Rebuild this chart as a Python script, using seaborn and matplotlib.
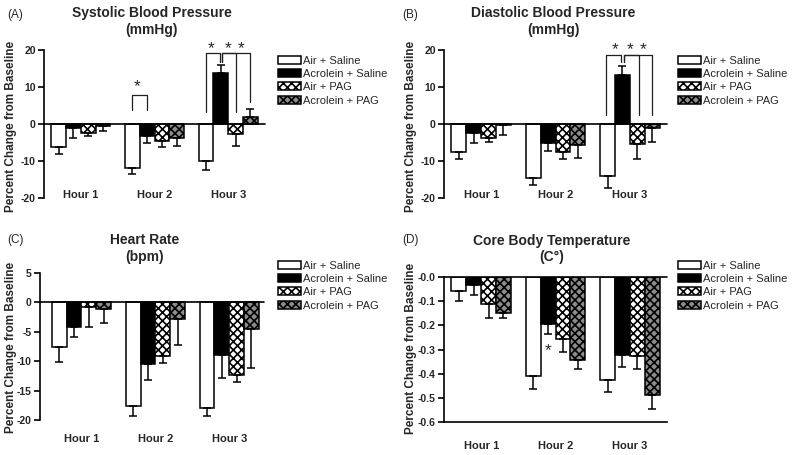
import numpy as np
import pandas as pd
import matplotlib
matplotlib.use("Agg")
import matplotlib.pyplot as plt
import seaborn as sns
from matplotlib.patches import Patch

sns.set_style("white")
plt.rcParams['font.family'] = ['Liberation Sans', 'DejaVu Sans']
plt.rcParams['hatch.linewidth'] = 1.2

# ---------------- data ----------------
hours = ["Hour 1", "Hour 2", "Hour 3"]
groups = ["Air + Saline", "Acrolein + Saline", "Air + PAG", "Acrolein + PAG"]

# (A) Systolic blood pressure, % change (mean, SEM)
sbp_mean_air_sal = [-6.2, -12.0, -9.9]
sbp_mean_acr_sal = [-1.2, -3.2, 13.9]
sbp_mean_air_pag = [-2.3, -4.5, -2.8]
sbp_mean_acr_pag = [-0.5, -3.9, 2.0]
sbp_sem_air_sal = [1.8, 1.5, 2.5]
sbp_sem_acr_sal = [2.5, 2.0, 2.0]
sbp_sem_air_pag = [0.9, 1.8, 3.1]
sbp_sem_acr_pag = [1.5, 2.0, 2.1]

# (B) Diastolic blood pressure
dbp_mean_air_sal = [-7.5, -14.7, -14.0]
dbp_mean_acr_sal = [-2.3, -5.0, 13.2]
dbp_mean_air_pag = [-3.7, -7.5, -5.5]
dbp_mean_acr_pag = [-0.3, -5.7, -1.2]
dbp_sem_air_sal = [2.0, 1.8, 3.4]
dbp_sem_acr_sal = [2.7, 2.2, 2.4]
dbp_sem_air_pag = [1.1, 2.0, 4.0]
dbp_sem_acr_pag = [2.7, 3.6, 3.6]

# (C) Heart rate
hr_mean_air_sal = [-7.5, -17.7, -17.9]
hr_mean_acr_sal = [-4.2, -10.5, -8.9]
hr_mean_air_pag = [-0.7, -9.2, -12.3]
hr_mean_acr_pag = [-1.1, -2.8, -4.5]
hr_sem_air_sal = [2.6, 1.6, 1.4]
hr_sem_acr_sal = [1.7, 2.7, 4.0]
hr_sem_air_pag = [3.4, 1.1, 1.2]
hr_sem_acr_pag = [2.4, 4.5, 6.7]

# (D) Core body temperature
temp_mean_air_sal = [-0.059, -0.408, -0.428]
temp_mean_acr_sal = [-0.034, -0.196, -0.324]
temp_mean_air_pag = [-0.110, -0.257, -0.327]
temp_mean_acr_pag = [-0.148, -0.342, -0.489]
temp_sem_air_sal = [0.041, 0.055, 0.046]
temp_sem_acr_sal = [0.039, 0.040, 0.050]
temp_sem_air_pag = [0.060, 0.052, 0.053]
temp_sem_acr_pag = [0.022, 0.040, 0.058]

bp_yticks = [20, 10, 0, -10, -20]
bp_yticklabels = ["20", "10", "0", "-10", "-20"]
hr_yticks = [5, 0, -5, -10, -15, -20]
hr_yticklabels = ["5", "0", "-5", "-10", "-15", "-20"]
temp_yticks = [0.0, -0.1, -0.2, -0.3, -0.4, -0.5, -0.6]
temp_yticklabels = ["-0.0", "-0.1", "-0.2", "-0.3", "-0.4", "-0.5", "-0.6"]

ylabel = "Percent Change from Baseline"

# ---------------- styling ----------------
face = {"Air + Saline": "white", "Acrolein + Saline": "black",
        "Air + PAG": "white", "Acrolein + PAG": "#8c8c8c"}
hatch = {"Air + Saline": "", "Acrolein + Saline": "",
         "Air + PAG": "xxxx", "Acrolein + PAG": "xxxx"}
LW = 1.1

fig = plt.figure(figsize=(8, 4.55), dpi=100)


def px_x(p):
    return p / 800.0


def px_y(p):
    return 1 - p / 455.0


def panel(rect, means, sems, ylim, yticks, yticklabels, xlim, spine_bounds,
          bottom_axis=False, label_pad=0.0):
    ax = fig.add_axes(rect)
    rows = []
    for g, m in zip(groups, means):
        for h, v in zip(hours, m):
            rows.append({"hour": h, "group": g, "value": v})
    df = pd.DataFrame(rows)
    sns.barplot(data=df, x="hour", y="value", hue="group", order=hours,
                hue_order=groups, palette=face, saturation=1, errorbar=None,
                edgecolor="black", linewidth=LW, width=0.8, legend=False,
                ax=ax, zorder=2)
    centers = []
    for g, cont in zip(groups, ax.containers):
        xs = []
        for p in cont.patches:
            p.set_hatch(hatch[g])
            p.set_edgecolor("black")
            xs.append(p.get_x() + p.get_width() / 2)
        centers.append(xs)
    for xs, m, s in zip(centers, means, sems):
        m = np.asarray(m)
        s = np.asarray(s)
        lower = np.where(m < 0, s, 0)
        upper = np.where(m >= 0, s, 0)
        ax.errorbar(xs, m, yerr=[lower, upper], fmt="none", ecolor="black",
                    elinewidth=LW, capsize=3, capthick=LW, zorder=3)
    ax.axhline(0, color="black", lw=1.2, zorder=4, clip_on=False)
    ax.set_ylim(*ylim)
    ax.set_xlim(*xlim)
    ax.set_yticks(yticks)
    ax.set_yticklabels(yticklabels)
    for side in ["top", "right"]:
        ax.spines[side].set_visible(False)
    ax.spines["left"].set_linewidth(1.2)
    ax.spines["left"].set_bounds(*spine_bounds)
    ax.spines["left"].set_color("black")
    if bottom_axis:
        ax.spines["bottom"].set_linewidth(1.2)
        ax.spines["bottom"].set_color("black")
        ax.tick_params(axis="x", length=4, width=1.2, direction="out",
                       pad=label_pad, color="black")
    else:
        ax.spines["bottom"].set_visible(False)
        ax.tick_params(axis="x", length=0, pad=label_pad)
    ax.tick_params(axis="y", length=4, width=1.2, direction="out", pad=2,
                   color="black", left=True)
    ax.set_xlabel("")
    ax.set_ylabel("")
    for t in ax.get_yticklabels():
        t.set_fontsize(7.5)
        t.set_fontweight("bold")
    for t in ax.get_xticklabels():
        t.set_fontsize(8)
        t.set_fontweight("bold")
    ax.patch.set_alpha(0)
    return ax, centers


def bracket(ax, x1, x2, ytop, y1, y2, star_x, star_y):
    ax.plot([x1, x1, x2, x2], [y1, ytop, ytop, y2], color="#202020",
            lw=0.9, clip_on=False, zorder=5)
    ax.text(star_x, star_y, "*", ha="center", va="center", fontsize=12.5,
            clip_on=False)


# (A)
axA, cA = panel([px_x(44), px_y(198), px_x(221), (198 - 42.6) / 455],
                [sbp_mean_air_sal, sbp_mean_acr_sal, sbp_mean_air_pag, sbp_mean_acr_pag],
                [sbp_sem_air_sal, sbp_sem_acr_sal, sbp_sem_air_pag, sbp_sem_acr_pag],
                (-20, 22), bp_yticks, bp_yticklabels, (-0.5, 2.5), (-20, 20),
                label_pad=-6)
# (B)
axB, cB = panel([px_x(444), px_y(198), px_x(223), (198 - 42.6) / 455],
                [dbp_mean_air_sal, dbp_mean_acr_sal, dbp_mean_air_pag, dbp_mean_acr_pag],
                [dbp_sem_air_sal, dbp_sem_acr_sal, dbp_sem_air_pag, dbp_sem_acr_pag],
                (-20, 22), bp_yticks, bp_yticklabels, (-0.5, 2.5), (-20, 20),
                label_pad=-6)
# (C)
axC, cC = panel([px_x(40), px_y(420), px_x(224), (420 - 273) / 455],
                [hr_mean_air_sal, hr_mean_acr_sal, hr_mean_air_pag, hr_mean_acr_pag],
                [hr_sem_air_sal, hr_sem_acr_sal, hr_sem_air_pag, hr_sem_acr_pag],
                (-20, 5), hr_yticks, hr_yticklabels, (-0.56, 2.47), (-20, 5),
                label_pad=10)
# (D)
axD, cD = panel([px_x(444), px_y(422), px_x(223), (422 - 277) / 455],
                [temp_mean_air_sal, temp_mean_acr_sal, temp_mean_air_pag, temp_mean_acr_pag],
                [temp_sem_air_sal, temp_sem_acr_sal, temp_sem_air_pag, temp_sem_acr_pag],
                (-0.6, 0.0), temp_yticks, temp_yticklabels, (-0.5, 2.5), (-0.6, 0.0),
                bottom_axis=True, label_pad=10)

# significance brackets
d = 0.016
# A, hour 2: Air+Saline vs Acrolein+Saline
bracket(axA, cA[0][1], cA[1][1], 7.8, 3.8, 3.8, (cA[0][1] + cA[1][1]) / 2 - 0.04, 10.0)
# A, hour 3
bracket(axA, cA[0][2], cA[1][2] - d, 19.1, 3.3, 16.8, (cA[0][2] + cA[1][2]) / 2 - 0.03, 20.3)
bracket(axA, cA[1][2] + d, cA[2][2], 19.1, 16.8, 3.3, (cA[1][2] + cA[2][2]) / 2, 20.3)
bracket(axA, cA[1][2] + d, cA[3][2], 19.1, 16.8, 6.0, (cA[2][2] + cA[3][2]) / 2 - 0.03, 20.3)
# B, hour 3
bracket(axB, cB[0][2] - 0.02, cB[1][2] - d, 18.6, 2.4, 16.8, (cB[0][2] + cB[1][2]) / 2, 20.0)
bracket(axB, cB[1][2] + d, cB[2][2] + 0.02, 18.6, 16.8, 2.4, (cB[1][2] + cB[2][2]) / 2, 20.0)
bracket(axB, cB[1][2] + d, cB[3][2], 18.6, 16.8, 2.4, (cB[2][2] + cB[3][2]) / 2 - 0.02, 20.0)
# D, hour 2 asterisk
axD.text(cD[1][1], -0.305, "*", ha="center", va="center", fontsize=12.5)

# titles
fig.text(px_x(152), px_y(21.5), "Systolic Blood Pressure\n(mmHg)", ha="center",
         va="center", fontsize=10, fontweight="bold", linespacing=1.25)
fig.text(px_x(553), px_y(21.5), "Diastolic Blood Pressure\n(mmHg)", ha="center",
         va="center", fontsize=10, fontweight="bold", linespacing=1.25)
fig.text(px_x(145), px_y(248.5), "Heart Rate\n(bpm)", ha="center",
         va="center", fontsize=10, fontweight="bold", linespacing=1.25)
fig.text(px_x(552), px_y(249), "Core Body Temperature\n(C\u00b0)", ha="center",
         va="center", fontsize=10, fontweight="bold", linespacing=1.25)

# panel letters
for lbl, x, y in [("(A)", 15, 15), ("(B)", 410.5, 15), ("(C)", 15, 240), ("(D)", 410.5, 240)]:
    fig.text(px_x(x), px_y(y), lbl, ha="center", va="center", fontsize=8.5)

# y labels
for x, y in [(11, 126), (411, 126), (11, 347), (411, 348)]:
    fig.text(px_x(x), px_y(y), ylabel, rotation=90, ha="center", va="center",
             fontsize=8.5, fontweight="bold")

# legends
handles = [Patch(facecolor=face[g], edgecolor="black", hatch=hatch[g], linewidth=LW)
           for g in groups]
for x, y in [(278, 55.6), (678, 55.6), (278, 260.6), (678, 260.6)]:
    fig.legend(handles, groups, loc="upper left", bbox_to_anchor=(px_x(x), px_y(y)),
               frameon=False, fontsize=8, handlelength=2.1, handleheight=0.75,
               handletextpad=0.15, labelspacing=0.3, borderpad=0, borderaxespad=0)

fig.savefig("out.png", dpi=100)
